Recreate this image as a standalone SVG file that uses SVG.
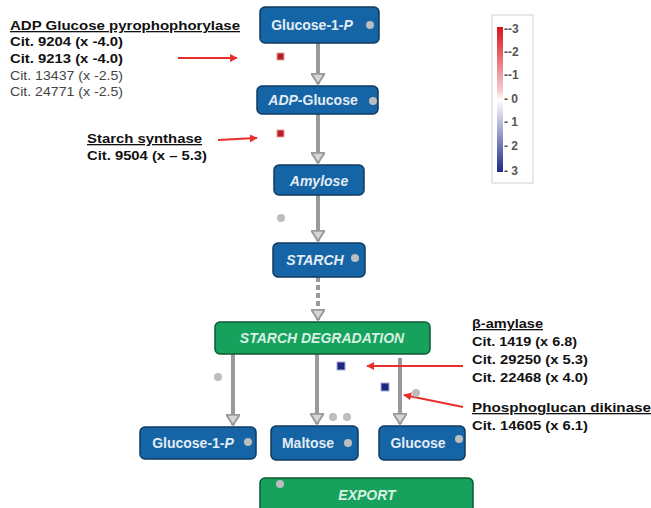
<svg xmlns="http://www.w3.org/2000/svg" width="651" height="508" viewBox="0 0 651 508">
<defs>
<marker id="ah" viewBox="0 0 10 12" refX="9" refY="6" markerWidth="3" markerHeight="3.6" markerUnits="strokeWidth" orient="auto">
<path d="M0.5,0.5 L9,6 L0.5,11.5 Z" fill="#d6d6d6" stroke="#9a9a9a" stroke-width="1.6"/>
</marker>
<marker id="rh" viewBox="0 0 10 10" refX="9" refY="5" markerWidth="4" markerHeight="4" orient="auto">
<path d="M0,0 L10,5 L0,10 Z" fill="#e8302a"/>
</marker>
<linearGradient id="lg" x1="0" y1="0" x2="0" y2="1">
<stop offset="0" stop-color="#d9141a"/>
<stop offset="0.45" stop-color="#f7d0d4"/>
<stop offset="0.5" stop-color="#ffffff"/>
<stop offset="0.6" stop-color="#d8d6ea"/>
<stop offset="1" stop-color="#1a2a8a"/>
</linearGradient>
</defs>
<style>
.nb{fill:#1565a6;stroke:#0f3a60;stroke-width:1.5}
.ng{fill:#16a25c;stroke:#0c5a33;stroke-width:1.5}
.nt{font-family:"Liberation Sans",Arial,sans-serif;font-weight:bold;font-size:14px;fill:#e4ecf4;text-anchor:middle}
.gt{font-family:"Liberation Sans",Arial,sans-serif;font-weight:bold;font-style:italic;font-size:14px;fill:#d8f0e2;text-anchor:middle}
.dot{fill:#bdbdbd}
.ln{stroke:#9a9a9a;stroke-width:4;fill:none}
.rl{stroke:#e8302a;stroke-width:2;fill:none}
.at{font-family:"Liberation Sans",Arial,sans-serif;font-size:13px;fill:#111}
.b{font-weight:bold}
.u{text-decoration:underline}
.g{fill:#444}
.lt{font-family:"Liberation Sans",Arial,sans-serif;font-size:12px;font-weight:bold;fill:#555}
</style>
<rect width="651" height="508" fill="#ffffff"/>

<g id="connectors">
<line class="ln" x1="318" y1="43" x2="318" y2="84" marker-end="url(#ah)"/>
<line class="ln" x1="318" y1="114" x2="318" y2="163" marker-end="url(#ah)"/>
<line class="ln" x1="318" y1="195" x2="318" y2="241" marker-end="url(#ah)"/>
<line class="ln" x1="318" y1="277" x2="318" y2="320" stroke-dasharray="5,3" marker-end="url(#ah)"/>
<line class="ln" x1="233" y1="354" x2="233" y2="425" marker-end="url(#ah)"/>
<line class="ln" x1="317" y1="354" x2="317" y2="424" marker-end="url(#ah)"/>
<line class="ln" x1="400" y1="358" x2="400" y2="424" marker-end="url(#ah)"/>
<line class="rl" x1="178" y1="58" x2="237" y2="58" marker-end="url(#rh)"/>
<line class="rl" x1="218" y1="140" x2="257" y2="138" marker-end="url(#rh)"/>
<line class="rl" x1="463" y1="366" x2="367" y2="366" marker-end="url(#rh)"/>
<line class="rl" x1="463" y1="407" x2="404" y2="395" marker-end="url(#rh)"/>
</g>

<g id="markers">
<rect x="277" y="53" width="7" height="7" fill="#b81e24" stroke="#e9a0a0" stroke-width="1"/>
<rect x="277" y="130" width="7" height="7" fill="#b81e24" stroke="#e9a0a0" stroke-width="1"/>
<rect x="337" y="362" width="8" height="8" fill="#1c2580" stroke="#a8acd8" stroke-width="1"/>
<rect x="381" y="383" width="8" height="8" fill="#1c2580" stroke="#a8acd8" stroke-width="1"/>
<circle class="dot" cx="281" cy="218" r="4"/>
<circle class="dot" cx="218" cy="377" r="4"/>
<circle class="dot" cx="416" cy="393" r="4"/>
<circle class="dot" cx="333" cy="417" r="4"/>
<circle class="dot" cx="347" cy="417" r="4"/>
</g>

<g id="n-glucose1p-top">
<rect class="nb" x="260" y="7" width="119" height="36" rx="5"/>
<text class="nt" x="312" y="30">Glucose-1-<tspan font-style="italic">P</tspan></text>
<circle class="dot" cx="370" cy="25" r="4"/>
</g>
<g id="n-adpglucose">
<rect class="nb" x="257" y="86" width="121" height="28" rx="5"/>
<text class="nt" x="313" y="105"><tspan font-style="italic">ADP</tspan>-Glucose</text>
<circle class="dot" cx="373" cy="101" r="4"/>
</g>
<g id="n-amylose">
<rect class="nb" x="274" y="165" width="90" height="30" rx="5"/>
<text class="nt" x="319" y="186" font-style="italic">Amylose</text>
</g>
<g id="n-starch">
<rect class="nb" x="273" y="243" width="92" height="34" rx="5"/>
<text class="nt" x="315" y="265" font-style="italic">STARCH</text>
<circle class="dot" cx="355" cy="258" r="4"/>
</g>
<g id="n-starch-degradation">
<rect class="ng" x="215" y="322" width="215" height="32" rx="5"/>
<text class="gt" x="322" y="343">STARCH DEGRADATION</text>
</g>
<g id="n-glucose1p-bottom">
<rect class="nb" x="140" y="427" width="116" height="32" rx="5"/>
<text class="nt" x="193" y="448">Glucose-1-<tspan font-style="italic">P</tspan></text>
<circle class="dot" cx="248" cy="442" r="4"/>
</g>
<g id="n-maltose">
<rect class="nb" x="271" y="426" width="87" height="34" rx="5"/>
<text class="nt" x="308" y="448">Maltose</text>
<circle class="dot" cx="348" cy="443" r="4"/>
</g>
<g id="n-glucose">
<rect class="nb" x="379" y="426" width="86" height="34" rx="5"/>
<text class="nt" x="418" y="448">Glucose</text>
<circle class="dot" cx="459" cy="439" r="4"/>
</g>
<g id="n-export">
<rect class="ng" x="260" y="478" width="213" height="40" rx="5"/>
<text class="gt" x="367" y="500">EXPORT</text>
<circle class="dot" cx="280" cy="484" r="4"/>
</g>

<g id="ann-adp">
<text class="at b u" x="10" y="30" textLength="230" lengthAdjust="spacingAndGlyphs">ADP Glucose pyrophophorylase</text>
<text class="at b" x="10" y="46" textLength="113" lengthAdjust="spacingAndGlyphs">Cit. 9204  (x -4.0)</text>
<text class="at b" x="10" y="63" textLength="113" lengthAdjust="spacingAndGlyphs">Cit. 9213  (x -4.0)</text>
<text class="at g" x="10" y="80" textLength="113" lengthAdjust="spacingAndGlyphs">Cit. 13437 (x -2.5)</text>
<text class="at g" x="10" y="96" textLength="113" lengthAdjust="spacingAndGlyphs">Cit. 24771 (x -2.5)</text>
</g>
<g id="ann-starch-synthase">
<text class="at b u" x="87" y="143" textLength="115" lengthAdjust="spacingAndGlyphs">Starch synthase</text>
<text class="at b" x="87" y="160" textLength="120" lengthAdjust="spacingAndGlyphs">Cit. 9504  (x – 5.3)</text>
</g>
<g id="ann-beta-amylase">
<text class="at b u" x="472" y="328" textLength="71" lengthAdjust="spacingAndGlyphs">β-amylase</text>
<text class="at b" x="472" y="346" textLength="105" lengthAdjust="spacingAndGlyphs">Cit. 1419  (x 6.8)</text>
<text class="at b" x="472" y="364" textLength="116" lengthAdjust="spacingAndGlyphs">Cit. 29250 (x 5.3)</text>
<text class="at b" x="472" y="382" textLength="116" lengthAdjust="spacingAndGlyphs">Cit. 22468 (x 4.0)</text>
</g>
<g id="ann-pgd">
<text class="at b u" x="472" y="412" textLength="179" lengthAdjust="spacingAndGlyphs">Phosphoglucan dikinase</text>
<text class="at b" x="472" y="430" textLength="116" lengthAdjust="spacingAndGlyphs">Cit. 14605 (x 6.1)</text>
</g>

<g id="legend">
<rect x="492" y="15" width="41" height="168" fill="#ffffff" stroke="#cfcfcf" stroke-width="1"/>
<rect x="497" y="27" width="6" height="145" fill="url(#lg)"/>
<text class="lt" x="504" y="33">--3</text>
<text class="lt" x="504" y="56">--2</text>
<text class="lt" x="504" y="79">--1</text>
<text class="lt" x="504" y="103">- 0</text>
<text class="lt" x="504" y="126">- 1</text>
<text class="lt" x="504" y="150">- 2</text>
<text class="lt" x="504" y="175">- 3</text>
</g>
</svg>
